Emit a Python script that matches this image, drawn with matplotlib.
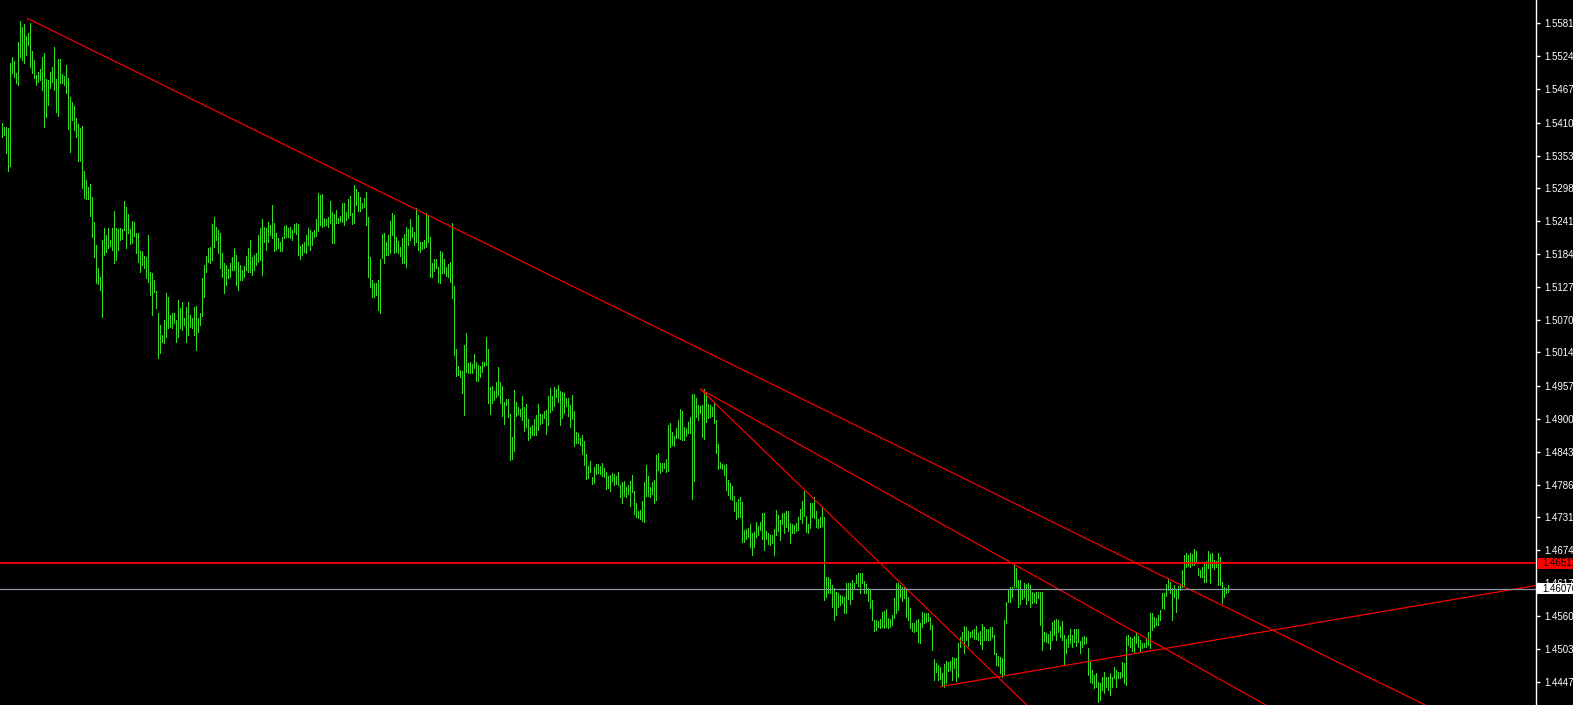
import matplotlib
matplotlib.use('Agg')
import matplotlib.pyplot as plt
import numpy as np
from matplotlib.transforms import blended_transform_factory
from matplotlib.patches import Rectangle

# ---------------- data (bar highs / lows, prices) ----------------
highs = [
1.5410,1.5403,1.5403,1.5401,1.5513,1.5523,1.5517,1.5496,1.5549,1.5586,
1.5575,1.5580,1.5560,1.5565,1.5582,1.5534,1.5518,1.5492,1.5498,1.5503,
1.5523,1.5530,1.5486,1.5484,1.5498,1.5506,1.5541,1.5486,1.5520,1.5520,
1.5494,1.5491,1.5510,1.5487,1.5455,1.5446,1.5439,1.5418,1.5408,1.5401,
1.5405,1.5327,1.5312,1.5300,1.5305,1.5282,1.5239,1.5200,1.5160,1.5145,
1.5208,1.5229,1.5217,1.5229,1.5208,1.5229,1.5258,1.5229,1.5227,1.5229,
1.5227,1.5275,1.5265,1.5253,1.5227,1.5241,1.5239,1.5220,1.5220,1.5189,
1.5189,1.5181,1.5179,1.5217,1.5153,1.5151,1.5139,1.5120,1.5083,1.5062,
1.5045,1.5071,1.5117,1.5110,1.5079,1.5083,1.5083,1.5071,1.5105,1.5091,
1.5102,1.5074,1.5093,1.5102,1.5079,1.5074,1.5093,1.5095,1.5074,1.5083,
1.5143,1.5165,1.5181,1.5194,1.5196,1.5236,1.5248,1.5231,1.5226,1.5220,
1.5186,1.5169,1.5165,1.5158,1.5169,1.5179,1.5194,1.5182,1.5170,1.5165,
1.5157,1.5164,1.5181,1.5194,1.5208,1.5179,1.5182,1.5186,1.5217,1.5229,
1.5244,1.5231,1.5229,1.5239,1.5234,1.5269,1.5238,1.5220,1.5212,1.5205,
1.5213,1.5232,1.5234,1.5229,1.5231,1.5226,1.5236,1.5238,1.5236,1.5198,
1.5201,1.5205,1.5217,1.5229,1.5226,1.5222,1.5226,1.5244,1.5289,1.5286,
1.5288,1.5246,1.5244,1.5248,1.5275,1.5257,1.5253,1.5260,1.5246,1.5250,
1.5272,1.5272,1.5257,1.5279,1.5284,1.5255,1.5303,1.5296,1.5291,1.5282,
1.5272,1.5281,1.5291,1.5248,1.5179,1.5139,1.5134,1.5134,1.5139,1.5176,
1.5219,1.5220,1.5205,1.5217,1.5241,1.5255,1.5251,1.5213,1.5207,1.5196,
1.5212,1.5219,1.5231,1.5227,1.5244,1.5231,1.5222,1.5263,1.5251,1.5205,
1.5205,1.5208,1.5255,1.5251,1.5213,1.5169,1.5176,1.5176,1.5162,1.5189,
1.5188,1.5176,1.5162,1.5167,1.5170,1.5238,1.5129,1.5021,1.4991,1.4984,
1.4983,1.5027,1.5048,1.4996,1.4998,1.4995,1.5012,1.4998,1.4993,1.4991,
1.4998,1.4998,1.5041,1.5021,1.4955,1.4957,1.4948,1.4964,1.4990,1.4964,
1.4957,1.4929,1.4934,1.4934,1.4909,1.4869,1.4950,1.4929,1.4921,1.4917,
1.4940,1.4921,1.4926,1.4900,1.4886,1.4889,1.4900,1.4907,1.4926,1.4909,
1.4909,1.4914,1.4916,1.4940,1.4953,1.4940,1.4955,1.4952,1.4959,1.4948,
1.4947,1.4945,1.4936,1.4936,1.4924,1.4941,1.4914,1.4878,1.4876,1.4867,
1.4872,1.4862,1.4840,1.4819,1.4828,1.4800,1.4817,1.4822,1.4822,1.4819,
1.4824,1.4816,1.4809,1.4802,1.4804,1.4807,1.4805,1.4802,1.4809,1.4786,
1.4791,1.4793,1.4783,1.4786,1.4793,1.4804,1.4776,1.4755,1.4742,1.4743,
1.4759,1.4791,1.4821,1.4802,1.4783,1.4791,1.4795,1.4838,1.4841,1.4824,
1.4824,1.4824,1.4831,1.4889,1.4893,1.4878,1.4871,1.4884,1.4898,1.4917,
1.4914,1.4886,1.4884,1.4895,1.4903,1.4943,1.4943,1.4936,1.4924,1.4922,
1.4924,1.4952,1.4947,1.4926,1.4924,1.4921,1.4929,1.4898,1.4857,1.4826,
1.4822,1.4821,1.4822,1.4795,1.4790,1.4785,1.4767,1.4757,1.4762,1.4766,
1.4757,1.4709,1.4711,1.4712,1.4719,1.4704,1.4705,1.4723,1.4716,1.4723,
1.4738,1.4738,1.4707,1.4704,1.4700,1.4700,1.4711,1.4743,1.4735,1.4726,
1.4738,1.4738,1.4742,1.4742,1.4721,1.4719,1.4717,1.4721,1.4731,1.4745,
1.4759,1.4776,1.4733,1.4719,1.4755,1.4755,1.4766,1.4742,1.4728,1.4731,
1.4748,1.4731,1.4628,1.4628,1.4624,1.4614,1.4609,1.4602,1.4600,1.4597,
1.4595,1.4593,1.4618,1.4618,1.4618,1.4623,1.4618,1.4631,1.4635,1.4635,
1.4635,1.4621,1.4616,1.4609,1.4605,1.4588,1.4554,1.4554,1.4552,1.4556,
1.4568,1.4569,1.4573,1.4557,1.4556,1.4562,1.4592,1.4618,1.4618,1.4614,
1.4611,1.4611,1.4609,1.4593,1.4574,1.4549,1.4549,1.4554,1.4556,1.4549,
1.4568,1.4566,1.4566,1.4566,1.4559,1.4545,1.4487,1.4480,1.4476,1.4473,
1.4462,1.4478,1.4483,1.4481,1.4483,1.4490,1.4488,1.4488,1.4514,1.4525,
1.4533,1.4543,1.4542,1.4535,1.4533,1.4537,1.4538,1.4543,1.4531,1.4535,
1.4547,1.4542,1.4538,1.4538,1.4542,1.4542,1.4528,1.4497,1.4492,1.4490,
1.4488,1.4554,1.4585,1.4605,1.4611,1.4611,1.4649,1.4643,1.4623,1.4623,
1.4607,1.4618,1.4616,1.4618,1.4614,1.4602,1.4600,1.4602,1.4602,1.4602,
1.4602,1.4533,1.4531,1.4530,1.4535,1.4550,1.4554,1.4556,1.4554,1.4543,
1.4552,1.4528,1.4521,1.4528,1.4538,1.4528,1.4538,1.4538,1.4538,1.4518,
1.4525,1.4526,1.4525,1.4506,1.4481,1.4468,1.4459,1.4462,1.4447,1.4445,
1.4456,1.4464,1.4456,1.4456,1.4462,1.4456,1.4473,1.4468,1.4464,1.4464,
1.4481,1.4480,1.4526,1.4528,1.4525,1.4523,1.4526,1.4533,1.4526,1.4519,
1.4514,1.4514,1.4523,1.4533,1.4566,1.4566,1.4559,1.4557,1.4562,1.4571,
1.4600,1.4600,1.4616,1.4624,1.4619,1.4609,1.4614,1.4607,1.4612,1.4614,
1.4640,1.4666,1.4669,1.4666,1.4669,1.4667,1.4676,1.4673,1.4643,1.4640,
1.4645,1.4654,1.4655,1.4673,1.4667,1.4669,1.4657,1.4655,1.4669,1.4662,
1.4619,1.4611,1.4609,1.4614,
]
lows = [
1.5386,1.5389,1.5358,1.5327,1.5336,1.5496,1.5489,1.5479,1.5475,1.5523,
1.5518,1.5513,1.5527,1.5544,1.5506,1.5496,1.5487,1.5475,1.5480,1.5484,
1.5467,1.5403,1.5420,1.5441,1.5470,1.5480,1.5467,1.5429,1.5422,1.5479,
1.5479,1.5475,1.5461,1.5399,1.5360,1.5415,1.5398,1.5386,1.5344,1.5344,
1.5298,1.5281,1.5279,1.5279,1.5250,1.5213,1.5179,1.5134,1.5133,1.5122,
1.5076,1.5182,1.5188,1.5194,1.5198,1.5191,1.5169,1.5174,1.5191,1.5208,
1.5210,1.5226,1.5194,1.5220,1.5201,1.5203,1.5215,1.5186,1.5170,1.5153,
1.5165,1.5160,1.5143,1.5136,1.5114,1.5079,1.5119,1.5091,1.5005,1.5014,
1.5033,1.5031,1.5041,1.5057,1.5058,1.5057,1.5065,1.5033,1.5041,1.5057,
1.5053,1.5062,1.5033,1.5045,1.5058,1.5057,1.5045,1.5019,1.5050,1.5062,
1.5077,1.5110,1.5153,1.5170,1.5169,1.5174,1.5196,1.5208,1.5186,1.5160,
1.5145,1.5117,1.5131,1.5143,1.5145,1.5157,1.5157,1.5131,1.5122,1.5139,
1.5139,1.5145,1.5157,1.5153,1.5153,1.5148,1.5157,1.5165,1.5170,1.5174,
1.5148,1.5205,1.5191,1.5205,1.5217,1.5212,1.5189,1.5191,1.5194,1.5189,
1.5189,1.5212,1.5213,1.5213,1.5212,1.5208,1.5222,1.5219,1.5182,1.5176,
1.5182,1.5188,1.5186,1.5200,1.5191,1.5200,1.5213,1.5215,1.5224,1.5234,
1.5231,1.5232,1.5234,1.5231,1.5238,1.5203,1.5203,1.5238,1.5238,1.5241,
1.5239,1.5234,1.5243,1.5246,1.5251,1.5236,1.5238,1.5269,1.5258,1.5258,
1.5263,1.5265,1.5234,1.5145,1.5127,1.5110,1.5110,1.5114,1.5088,1.5083,
1.5177,1.5169,1.5182,1.5182,1.5186,1.5217,1.5186,1.5188,1.5186,1.5181,
1.5169,1.5169,1.5162,1.5200,1.5208,1.5213,1.5200,1.5205,1.5191,1.5188,
1.5193,1.5194,1.5196,1.5205,1.5145,1.5145,1.5155,1.5160,1.5136,1.5134,
1.5151,1.5151,1.5146,1.5145,1.5136,1.5108,1.5010,1.4974,1.4976,1.4972,
1.4945,1.4907,1.4981,1.4979,1.4979,1.4979,1.4988,1.4965,1.4965,1.4972,
1.4981,1.4991,1.4993,1.4928,1.4909,1.4928,1.4933,1.4938,1.4941,1.4928,
1.4905,1.4891,1.4924,1.4903,1.4829,1.4831,1.4845,1.4905,1.4909,1.4905,
1.4898,1.4879,1.4886,1.4864,1.4867,1.4872,1.4872,1.4872,1.4881,1.4891,
1.4893,1.4902,1.4874,1.4889,1.4912,1.4916,1.4922,1.4938,1.4929,1.4889,
1.4902,1.4910,1.4922,1.4905,1.4886,1.4900,1.4854,1.4859,1.4859,1.4855,
1.4840,1.4821,1.4797,1.4798,1.4809,1.4788,1.4790,1.4805,1.4807,1.4805,
1.4802,1.4800,1.4779,1.4781,1.4776,1.4793,1.4786,1.4788,1.4786,1.4766,
1.4755,1.4767,1.4766,1.4771,1.4750,1.4774,1.4736,1.4731,1.4729,1.4728,
1.4724,1.4723,1.4767,1.4767,1.4766,1.4771,1.4755,1.4760,1.4812,1.4807,
1.4810,1.4816,1.4809,1.4810,1.4852,1.4855,1.4854,1.4867,1.4867,1.4866,
1.4864,1.4864,1.4871,1.4876,1.4876,1.4762,1.4793,1.4903,1.4898,1.4910,
1.4869,1.4866,1.4895,1.4902,1.4903,1.4905,1.4893,1.4841,1.4814,1.4816,
1.4814,1.4804,1.4778,1.4769,1.4762,1.4760,1.4742,1.4728,1.4731,1.4731,
1.4688,1.4688,1.4693,1.4697,1.4680,1.4666,1.4680,1.4697,1.4700,1.4709,
1.4693,1.4674,1.4693,1.4685,1.4683,1.4686,1.4666,1.4700,1.4707,1.4692,
1.4719,1.4704,1.4714,1.4707,1.4686,1.4704,1.4704,1.4707,1.4709,1.4728,
1.4721,1.4733,1.4705,1.4704,1.4712,1.4731,1.4729,1.4714,1.4712,1.4714,
1.4716,1.4588,1.4593,1.4600,1.4600,1.4576,1.4554,1.4562,1.4576,1.4580,
1.4583,1.4566,1.4566,1.4590,1.4581,1.4590,1.4607,1.4618,1.4612,1.4600,
1.4618,1.4600,1.4600,1.4587,1.4574,1.4554,1.4535,1.4537,1.4542,1.4540,
1.4542,1.4540,1.4542,1.4540,1.4542,1.4545,1.4557,1.4566,1.4571,1.4593,
1.4587,1.4592,1.4559,1.4554,1.4540,1.4535,1.4533,1.4535,1.4516,1.4514,
1.4542,1.4549,1.4550,1.4552,1.4538,1.4502,1.4450,1.4464,1.4450,1.4452,
1.4440,1.4438,1.4445,1.4466,1.4468,1.4450,1.4471,1.4449,1.4456,1.4507,
1.4519,1.4497,1.4519,1.4509,1.4525,1.4525,1.4521,1.4521,1.4519,1.4512,
1.4504,1.4519,1.4519,1.4519,1.4519,1.4525,1.4495,1.4476,1.4475,1.4462,
1.4456,1.4459,1.4549,1.4585,1.4585,1.4593,1.4611,1.4611,1.4576,1.4581,
1.4590,1.4593,1.4581,1.4588,1.4576,1.4583,1.4585,1.4583,1.4592,1.4545,
1.4502,1.4518,1.4516,1.4514,1.4504,1.4519,1.4528,1.4519,1.4533,1.4525,
1.4519,1.4478,1.4497,1.4507,1.4514,1.4507,1.4516,1.4509,1.4516,1.4497,
1.4507,1.4512,1.4514,1.4459,1.4447,1.4445,1.4437,1.4438,1.4413,1.4416,
1.4433,1.4428,1.4438,1.4433,1.4425,1.4438,1.4454,1.4438,1.4454,1.4454,
1.4456,1.4445,1.4442,1.4511,1.4507,1.4500,1.4499,1.4514,1.4507,1.4500,
1.4506,1.4507,1.4507,1.4511,1.4506,1.4537,1.4542,1.4545,1.4545,1.4554,
1.4574,1.4573,1.4595,1.4605,1.4600,1.4554,1.4593,1.4568,1.4592,1.4605,
1.4611,1.4612,1.4645,1.4647,1.4645,1.4649,1.4649,1.4652,1.4631,1.4628,
1.4628,1.4619,1.4619,1.4643,1.4618,1.4645,1.4642,1.4645,1.4614,1.4614,
1.4583,1.4593,1.4600,1.4602,
]

price_ticks = [1.55815, 1.55245, 1.54675, 1.54105, 1.53535, 1.52980, 1.52410,
               1.51840, 1.51270, 1.50700, 1.50145, 1.49575, 1.49005, 1.48435,
               1.47865, 1.47310, 1.46740, 1.46170, 1.45600, 1.45030, 1.44475]
tick_labels = ['1.55815', '1.55245', '1.54675', '1.54105', '1.53535', '1.52980',
               '1.52410', '1.51840', '1.51270', '1.50700', '1.50145', '1.49575',
               '1.49005', '1.48435', '1.47865', '1.47310', '1.46740', '1.46170',
               '1.45600', '1.45030', '1.44475']

hline_price = 1.46511
hline_label = '1.46511'
bid_price = 1.46076
bid_label = '1.46076'

# trend lines (bar index, price) anchor pairs; drawn as rays to the right
trend_lines = [
    ((12.8, 1.5590), (612.0, 1.4576)),
    ((349.5, 1.4951), (500.0, 1.4449)),
    ((349.5, 1.4951), (600.0, 1.4469)),
    ((469.5, 1.4439), (760.0, 1.4609)),
]

# ---------------- figure ----------------
W, H = 1573, 705
fig = plt.figure(figsize=(W / 100, H / 100), dpi=100, facecolor='black')
ax = fig.add_axes([0, 0, 1536 / W, 1])
ax.set_facecolor('black')

X0, X1 = -0.85, 767.15
Y0, Y1 = 1.44073, 1.56216
ax.set_xlim(X0, X1)
ax.set_ylim(Y0, Y1)

bar_color = '#33dd22'
xs = np.arange(len(highs))
ax.vlines(xs, lows, highs, colors=bar_color, linewidth=0.5, antialiased=False, zorder=2)

for (x1, y1), (x2, y2) in trend_lines:
    slope = (y2 - y1) / (x2 - x1)
    ax.plot([x1, X1], [y1, y1 + slope * (X1 - x1)], color='#ff0000', lw=0.85, zorder=3)

ax.axhline(hline_price, color='#ff0000', lw=1.3, zorder=3)
ax.axhline(bid_price, color='#8a96a6', lw=0.9, zorder=3)

# axis styling
for s in ['left', 'top', 'bottom']:
    ax.spines[s].set_visible(False)
ax.spines['right'].set_color('white')
ax.spines['right'].set_linewidth(1.0)
ax.set_xticks([])
ax.yaxis.tick_right()
ax.set_yticks(price_ticks)
ax.set_yticklabels(tick_labels)
ax.tick_params(axis='y', colors='white', length=3, width=1, pad=3,
               labelsize=7, labelcolor='white')
for lab in ax.get_yticklabels():
    lab.set_fontfamily(['Liberation Sans', 'DejaVu Sans'])

# price label boxes
tr = blended_transform_factory(fig.transFigure, ax.transData)
half = 5.5 / 5806
for price, label, fc, tc in [(hline_price, hline_label, '#ff0000', 'black'),
                             (bid_price, bid_label, 'white', 'black')]:
    fig.add_artist(Rectangle((1537 / W, price - half), (W - 1537) / W, 2 * half,
                             transform=tr, facecolor=fc, edgecolor='none', zorder=5))
    fig.text(1542.5 / W, price, label, transform=tr, color=tc, fontsize=7,
             va='center', ha='left', family=['Liberation Sans', 'DejaVu Sans'], zorder=6)

fig.savefig('out.png', dpi=100, facecolor='black')
